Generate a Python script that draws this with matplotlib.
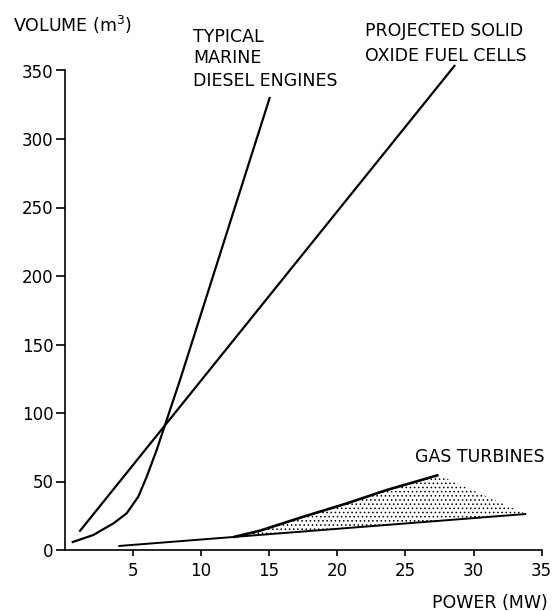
import numpy as np
import matplotlib.pyplot as plt

# values (power in MW, volume in m3)
diesel_x = [0.53, 2.1, 3.6, 4.56, 5.41, 6.03, 6.76, 7.37, 8.47, 15.07]
diesel_y = [5.6, 10.9, 19.5, 26.8, 38.9, 53.5, 73.0, 91.2, 124.0, 330.7]

sofc_x = [1.09, 28.65]
sofc_y = [13.4, 354.0]

gas_low_x = [3.95, 33.86]
gas_low_y = [2.9, 26.3]
gas_up_x = [12.38, 14.34, 17.52, 20.7, 23.64, 27.43]
gas_up_y = [9.4, 14.1, 24.3, 34.0, 43.8, 54.7]

x_ticks = [5, 10, 15, 20, 25, 30, 35]
y_ticks = [0, 50, 100, 150, 200, 250, 300, 350]

W, H = 556, 611
plt.rcParams['font.family'] = ['DejaVu Sans']
plt.rcParams['hatch.linewidth'] = 0.6

fig = plt.figure(figsize=(W / 100, H / 100), dpi=100)
ax = fig.add_axes([64.5 / W, 1 - 550 / H, (541.7 - 64.5) / W, (550 - 70.5) / H])
ax.set_xlim(0, 35)
ax.set_ylim(0, 350)

# curves
ax.plot(diesel_x, diesel_y, color='black', lw=1.6, clip_on=False,
        solid_joinstyle='round', solid_capstyle='butt')
ax.plot(sofc_x, sofc_y, color='black', lw=1.6, clip_on=False, solid_capstyle='butt')

# gas turbine band (stippled)
low_at_start = np.interp(gas_up_x[0], gas_low_x, gas_low_y)
poly_x = gas_up_x + [gas_low_x[-1], gas_up_x[0]]
poly_y = gas_up_y + [gas_low_y[-1], low_at_start]
ax.fill(poly_x, poly_y, facecolor='none', edgecolor='black', lw=0, hatch='....')
ax.plot(gas_low_x, gas_low_y, color='black', lw=1.4, solid_capstyle='butt')
ax.plot(gas_up_x, gas_up_y, color='black', lw=1.9, solid_capstyle='butt',
        solid_joinstyle='round')

# axes styling
for s in ['top', 'right']:
    ax.spines[s].set_visible(False)
for s in ['left', 'bottom']:
    ax.spines[s].set_linewidth(1.2)
ax.set_xticks(x_ticks)
ax.set_yticks(y_ticks)
ax.tick_params(axis='x', direction='out', length=4.5, width=1.2, pad=4, labelsize=12)
ax.tick_params(axis='y', direction='out', length=6.5, width=1.2, pad=1.5, labelsize=12)


def put(px, py, s):
    # py is the baseline in pixels from the top
    fig.text(px / W, 1 - py / H, s, ha='left', va='baseline', fontsize=12.5)


put(12.7, 31.7, 'VOLUME (m$^3$)')
put(193, 41.7, 'TYPICAL')
put(193, 63.3, 'MARINE')
put(193, 86, 'DIESEL ENGINES')
put(365, 35.7, 'PROJECTED SOLID')
put(365, 61, 'OXIDE FUEL CELLS')
put(415, 461.7, 'GAS TURBINES')
put(431.7, 608.5, 'POWER (MW)')

fig.savefig('out.png', dpi=100)
